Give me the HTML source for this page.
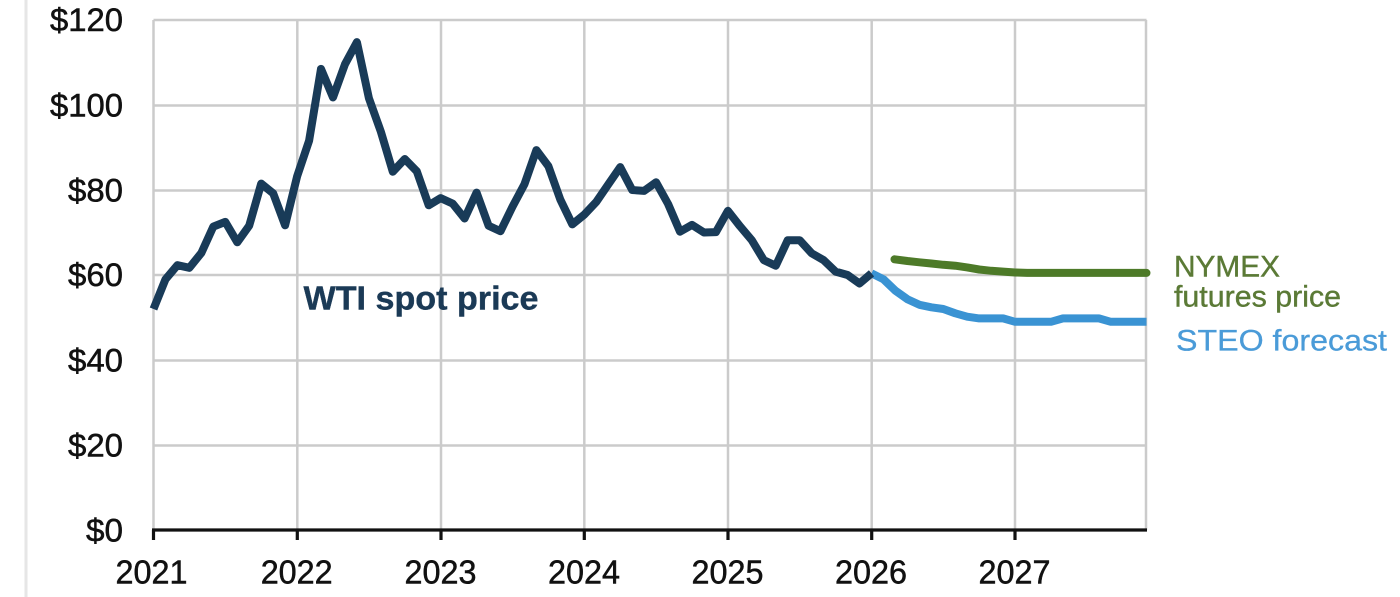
<!DOCTYPE html>
<html><head><meta charset="utf-8"><style>
html,body{margin:0;padding:0;background:#fff;}
svg{display:block;}
text{font-family:"Liberation Sans",Arial,sans-serif;}
</style></head><body>
<svg width="1400" height="597" viewBox="0 0 1400 597" xmlns="http://www.w3.org/2000/svg">
<rect width="1400" height="597" fill="#fff"/>
<line x1="26" y1="0" x2="26" y2="597" stroke="#e6e6e6" stroke-width="3"/>
<g stroke="#cbcbcb" stroke-width="2.5" fill="none">
<line x1="153.5" y1="20" x2="1146.5" y2="20"/>
<line x1="153.5" y1="105.5" x2="1146.5" y2="105.5"/>
<line x1="153.5" y1="190.5" x2="1146.5" y2="190.5"/>
<line x1="153.5" y1="275" x2="1146.5" y2="275"/>
<line x1="153.5" y1="360.5" x2="1146.5" y2="360.5"/>
<line x1="153.5" y1="445.5" x2="1146.5" y2="445.5"/>
<line x1="153.5" y1="20" x2="153.5" y2="530"/>
<line x1="297.3" y1="20" x2="297.3" y2="530"/>
<line x1="441" y1="20" x2="441" y2="530"/>
<line x1="584.3" y1="20" x2="584.3" y2="530"/>
<line x1="728" y1="20" x2="728" y2="530"/>
<line x1="871.7" y1="20" x2="871.7" y2="530"/>
<line x1="1015" y1="20" x2="1015" y2="530"/>
<line x1="1146" y1="20" x2="1146" y2="530"/>
</g>
<g stroke="#111" stroke-width="3.2" fill="none">
<line x1="152" y1="530" x2="1147" y2="530"/>
<line x1="153.5" y1="530" x2="153.5" y2="540"/>
<line x1="297.3" y1="530" x2="297.3" y2="540"/>
<line x1="441" y1="530" x2="441" y2="540"/>
<line x1="584.3" y1="530" x2="584.3" y2="540"/>
<line x1="728" y1="530" x2="728" y2="540"/>
<line x1="871.7" y1="530" x2="871.7" y2="540"/>
<line x1="1015" y1="530" x2="1015" y2="540"/>
</g>
<g font-size="32" fill="#111" stroke="#111" stroke-width="0.5" text-anchor="end">
<text x="123" y="31" textLength="73" lengthAdjust="spacingAndGlyphs">$120</text>
<text x="123" y="116.5" textLength="73" lengthAdjust="spacingAndGlyphs">$100</text>
<text x="123" y="201.5" textLength="55" lengthAdjust="spacingAndGlyphs">$80</text>
<text x="123" y="286" textLength="55" lengthAdjust="spacingAndGlyphs">$60</text>
<text x="123" y="371.5" textLength="55" lengthAdjust="spacingAndGlyphs">$40</text>
<text x="123" y="456.5" textLength="55" lengthAdjust="spacingAndGlyphs">$20</text>
<text x="123" y="541.5" textLength="37" lengthAdjust="spacingAndGlyphs">$0</text>
</g>
<g font-size="33" fill="#111" stroke="#111" stroke-width="0.5" text-anchor="middle">
<text x="151.5" y="583.5" textLength="72" lengthAdjust="spacingAndGlyphs">2021</text>
<text x="296.7" y="583.5" textLength="72" lengthAdjust="spacingAndGlyphs">2022</text>
<text x="440.5" y="583.5" textLength="72" lengthAdjust="spacingAndGlyphs">2023</text>
<text x="584" y="583.5" textLength="72" lengthAdjust="spacingAndGlyphs">2024</text>
<text x="727.5" y="583.5" textLength="72" lengthAdjust="spacingAndGlyphs">2025</text>
<text x="871" y="583.5" textLength="72" lengthAdjust="spacingAndGlyphs">2026</text>
<text x="1014.5" y="583.5" textLength="72" lengthAdjust="spacingAndGlyphs">2027</text>
</g>
<polyline fill="none" stroke="#4d7a28" stroke-width="8" stroke-linejoin="round" stroke-linecap="round" points="894.5,259.3 907.4,261.0 919.4,262.3 931.3,263.5 943.3,264.8 955.3,265.7 967.2,267.4 979.2,269.5 991.2,270.8 1003.1,271.6 1015.1,272.5 1027.1,272.9 1146.5,272.9"/>
<polyline fill="none" stroke="#3a93d3" stroke-width="8" stroke-linejoin="round" points="871.5,273.3 883.5,279.3 895.4,290.7 907.4,299.2 919.4,304.8 931.3,307.3 943.3,309.0 955.3,313.3 967.2,316.7 979.2,318.4 991.2,318.4 1003.1,318.4 1015.1,321.8 1027.1,321.8 1039.0,321.8 1051.0,321.8 1063.0,318.4 1074.9,318.4 1086.9,318.4 1098.9,318.4 1110.8,321.8 1122.8,321.8 1134.8,321.8 1146.5,321.8"/>
<polyline fill="none" stroke="#193b58" stroke-width="8" stroke-linejoin="round" points="153.5,309.0 165.5,279.3 177.4,265.2 189.4,267.8 201.4,252.9 213.3,226.6 225.3,221.9 237.3,242.3 249.2,225.7 261.2,183.6 273.2,193.4 285.1,225.3 297.1,176.4 309.1,140.7 321.0,68.9 333.0,97.4 345.0,64.2 356.9,42.1 368.9,98.2 380.9,131.8 392.8,171.7 404.8,159.0 416.8,171.3 428.7,205.3 440.7,198.1 452.7,203.6 464.6,218.5 476.6,192.6 488.6,225.7 500.5,231.2 512.5,206.6 524.5,184.1 536.4,150.1 548.4,166.2 560.4,199.8 572.3,224.4 584.3,214.6 596.3,201.9 608.2,184.5 620.2,167.1 632.2,190.0 644.1,190.9 656.1,182.3 668.1,204.0 680.0,231.7 692.0,224.9 704.0,232.5 715.9,232.1 727.9,210.8 739.9,226.1 751.8,240.2 763.8,260.1 775.8,265.7 787.7,240.2 799.7,240.2 811.7,253.3 823.6,260.1 835.6,271.6 847.6,275.0 859.5,283.5 871.5,273.3"/>
<text x="303.5" y="309.3" font-size="33" font-weight="bold" fill="#1b3a56" stroke="#1b3a56" stroke-width="0.4" textLength="235" lengthAdjust="spacingAndGlyphs">WTI spot price</text>
<text x="1174" y="276.7" font-size="29.5" fill="#5b7a36" stroke="#5b7a36" stroke-width="0.4" textLength="106" lengthAdjust="spacingAndGlyphs">NYMEX</text>
<text x="1174" y="306.7" font-size="29.5" fill="#5b7a36" stroke="#5b7a36" stroke-width="0.4" textLength="167" lengthAdjust="spacingAndGlyphs">futures price</text>
<text x="1176" y="350.7" font-size="30" fill="#4a9bd8" stroke="#4a9bd8" stroke-width="0.3" textLength="211" lengthAdjust="spacingAndGlyphs">STEO forecast</text>
</svg>
</body></html>
